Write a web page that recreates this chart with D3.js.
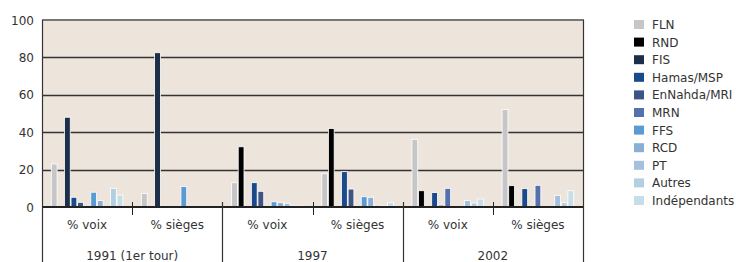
<!DOCTYPE html>
<html>
<head>
<meta charset="utf-8">
<script src="https://cdn.jsdelivr.net/npm/d3@7"></script>
<style>
  body { margin: 0; background: #fff; }
  text { font-family: "DejaVu Sans", sans-serif; fill: #333; }
</style>
</head>
<body>
<script>
// donnees
var parties = ["FLN", "RND", "FIS", "Hamas/MSP", "EnNahda/MRI", "MRN", "FFS", "RCD", "PT", "Autres", "Indépendants"];
var colors = ["#c6c6c8", "#000000", "#1c2e48", "#1a4a8c", "#3e5584", "#5670ad", "#5b9bd3", "#8aaed4", "#a3c1dc", "#b4cfe1", "#c6deea"];
var years = ["1991 (1er tour)", "1997", "2002"];
var kinds = ["% voix", "% sièges"];
var yTicks = [0, 20, 40, 60, 80, 100];

// une ligne par categorie (annee x type), une valeur par parti
var v1991voix   = [23, 0, 48, 5.2, 2.5, 0, 7.9, 3.4, 0, 10, 6.4];
var v1991sieges = [7.3, 0, 82.5, 0, 0, 0, 10.9, 0, 0, 0, 0];
var v1997voix   = [13, 32.2, 0, 13, 8.4, 0, 2.8, 2.3, 2, 0.5, 0.5];
var v1997sieges = [17.8, 42, 0, 18.9, 9.6, 0, 5.5, 5.2, 1, 0.5, 2.5];
var v2002voix   = [36.2, 8.7, 0, 7.7, 1, 10, 0, 0, 3.4, 2.1, 4.3];
var v2002sieges = [52.2, 11.4, 0, 9.8, 0, 11.6, 0, 0, 6.2, 2.3, 8.7];

var series = [v1991voix, v1991sieges, v1997voix, v1997sieges, v2002voix, v2002sieges];
var cats = [];
years.forEach(function(yr) { kinds.forEach(function(k) { cats.push(yr + "|" + k); }); });

var W = 736, H = 262;
var pLeft = 42, pRight = 583, pTop = 20, pBase = 207;

var svg = d3.select("body").append("svg")
    .attr("width", W)
    .attr("height", H);

var x0 = d3.scaleBand().domain(cats).range([pLeft, pRight]);
var x1 = d3.scaleBand().domain(parties)
    .range([9.3, x0.bandwidth() - 9.3]).paddingInner(0.12);
var y = d3.scaleLinear().domain([0, 100]).range([pBase, pTop]);
var xYear = d3.scaleBand().domain(years).range([pLeft, pRight]);

// fond
svg.append("rect")
    .attr("x", pLeft).attr("y", pTop)
    .attr("width", pRight - pLeft).attr("height", pBase - pTop)
    .attr("fill", "#ede4dc");

// grille
svg.append("g").selectAll("line")
    .data([20, 40, 60, 80])
    .join("line")
    .attr("x1", pLeft).attr("x2", pRight)
    .attr("y1", function(d) { return Math.round(y(d)) + 0.5; })
    .attr("y2", function(d) { return Math.round(y(d)) + 0.5; })
    .attr("stroke", "#333")
    .attr("stroke-width", 1.3);

// bordure haute
svg.append("line")
    .attr("x1", pLeft).attr("x2", pRight + 1)
    .attr("y1", pTop).attr("y2", pTop)
    .attr("stroke", "#777").attr("stroke-width", 2);

// barres
var groups = svg.append("g").selectAll("g")
    .data(series)
    .join("g")
    .attr("transform", function(d, i) { return "translate(" + x0(cats[i]) + ",0)"; });

groups.selectAll("rect")
    .data(function(d) {
      return d.map(function(v, j) { return {p: parties[j], v: v, c: colors[j]}; })
              .filter(function(e) { return e.v > 0; });
    })
    .join("rect")
    .attr("x", function(d) { return x1(d.p); })
    .attr("width", x1.bandwidth())
    .attr("y", function(d) { return y(d.v); })
    .attr("height", function(d) { return pBase - y(d.v); })
    .attr("fill", function(d) { return d.c; })
    .attr("stroke", "#fff")
    .attr("stroke-width", 0.8);

// axe du bas
svg.append("line")
    .attr("x1", pLeft).attr("x2", pRight)
    .attr("y1", pBase).attr("y2", pBase)
    .attr("stroke", "#222").attr("stroke-width", 2);

// petites graduations entre voix et sieges
svg.append("g").selectAll("line")
    .data(years)
    .join("line")
    .attr("x1", function(d) { return Math.round(xYear(d) + xYear.bandwidth() / 2) + 0.5; })
    .attr("x2", function(d) { return Math.round(xYear(d) + xYear.bandwidth() / 2) + 0.5; })
    .attr("y1", pBase - 5).attr("y2", pBase + 8)
    .attr("stroke", "#222");

// separateurs d'annees
var seps = years.map(function(d) { return xYear(d); }).concat([pRight]);
svg.append("g").selectAll("line")
    .data(seps)
    .join("line")
    .attr("x1", function(d) { return Math.round(d) + 0.5; })
    .attr("x2", function(d) { return Math.round(d) + 0.5; })
    .attr("y1", function(d, i) { return (i == 0 || i == seps.length - 1) ? pTop : pBase - 5; })
    .attr("y2", H)
    .attr("stroke", "#333")
    .attr("stroke-width", 1.2);

// libelles categories
svg.append("g").selectAll("text")
    .data(cats)
    .join("text")
    .attr("x", function(d) { return x0(d) + x0.bandwidth() / 2; })
    .attr("y", 229)
    .attr("text-anchor", "middle")
    .attr("font-size", 12)
    .text(function(d) { return d.split("|")[1]; });

svg.append("g").selectAll("text")
    .data(years)
    .join("text")
    .attr("x", function(d) { return xYear(d) + xYear.bandwidth() / 2; })
    .attr("y", 260)
    .attr("text-anchor", "middle")
    .attr("font-size", 12)
    .text(function(d) { return d; });

// axe y
svg.append("g").selectAll("text")
    .data(yTicks)
    .join("text")
    .attr("x", 34)
    .attr("y", function(d) { return y(d) + 4.5; })
    .attr("text-anchor", "end")
    .attr("font-size", 12)
    .text(function(d) { return d; });

// legende
var leg = svg.append("g").attr("transform", "translate(634,20)");
var items = leg.selectAll("g")
    .data(parties)
    .join("g")
    .attr("transform", function(d, i) { return "translate(0," + (i * 17.6) + ")"; });
items.append("rect")
    .attr("width", 10).attr("height", 9)
    .attr("fill", function(d, i) { return colors[i]; });
items.append("text")
    .attr("x", 18).attr("y", 9)
    .attr("font-size", 12)
    .text(function(d) { return d; });
</script>
</body>
</html>
